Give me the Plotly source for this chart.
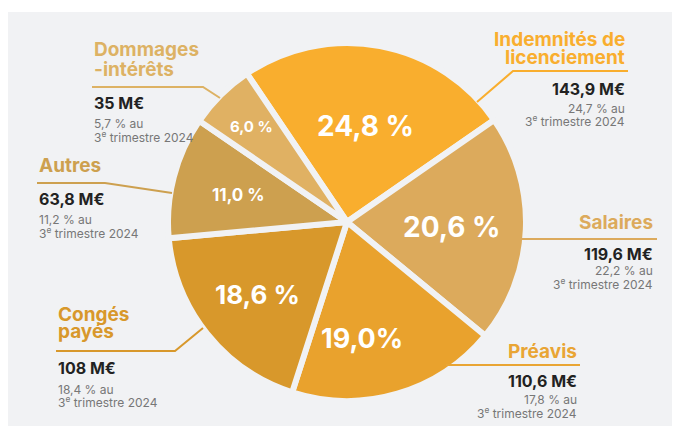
import math
import plotly.graph_objects as go

# ---- data ----
categories = ["Indemnités de licenciement", "Salaires", "Préavis", "Congés payés", "Autres", "Dommages-intérêts"]
shares_pct = [24.8, 20.6, 19.0, 18.6, 11.0, 6.0]
share_labels = ["24,8 %", "20,6 %", "19,0%", "18,6 %", "11,0 %", "6,0 %"]
amounts = ["143,9 M€", "119,6 M€", "110,6 M€", "108 M€", "63,8 M€", "35 M€"]
prev_share = ["24,7 % au", "22,2 % au", "17,8 % au", "18,4 % au", "11,2 % au", "5,7 % au"]
prev_period = "3<sup>e</sup> trimestre 2024"

colors = ["#F9AE2E", "#DCAA5C", "#E9A22D", "#D8982B", "#CDA04F", "#E0B163"]
label_colors = ["#F9AE2E", "#DCAA5C", "#E9A534", "#D8982B", "#CDA04F", "#DDB264"]
BG = "#F1F2F4"
W, H = 680, 432
FONT = "Inter"
OFF = 8  # page body margin offset

def px(x):
    return (x - OFF) / W

def py(y):
    return 1 - (y - OFF) / H

# pie geometry (center 347,222 ; radius ~179)
cx, cy, r = 347, 222, 179
ROTATION = -34

fig = go.Figure()
fig.add_trace(go.Pie(
    labels=categories,
    values=shares_pct,
    textinfo="none",
    sort=False,
    direction="clockwise",
    rotation=ROTATION,
    marker=dict(colors=colors, line=dict(color=BG, width=6)),
    hoverinfo="skip",
    showlegend=False,
    domain=dict(x=[px(cx - r), px(cx + r)], y=[py(cy + r), py(cy - r)]),
))

annotations = []

def ann(x, y, text, size, color, weight=400, anchor="left"):
    annotations.append(dict(
        x=px(x), y=py(y), xref="paper", yref="paper", text=text, showarrow=False,
        xanchor=anchor, yanchor="middle",
        font=dict(family=FONT, size=size, color=color, weight=weight),
    ))

# in-slice percentage labels, placed along each slice's mid-angle (computed from the data)
label_radius = [99, 105, 116, 115, 112, 136]
label_angle_shift = [0, 0, 9, 0, 0, 0]
label_sizes = [28, 28, 27, 26, 17, 15]
total = sum(shares_pct)
cum = 0.0
for i, v in enumerate(shares_pct):
    mid = ROTATION + (cum + v / 2) / total * 360 + label_angle_shift[i]
    cum += v
    t = math.radians(mid)
    lx = cx + label_radius[i] * math.sin(t)
    ly = cy - label_radius[i] * math.cos(t)
    annotations.append(dict(
        x=px(lx), y=py(ly + 1), xref="paper", yref="paper", text=share_labels[i], showarrow=False,
        xanchor="center", yanchor="middle",
        font=dict(family=FONT, size=label_sizes[i], color="white", weight=700),
    ))

shapes = [dict(type="rect", xref="paper", yref="paper", x0=px(8), x1=px(690), y0=py(426), y1=py(12),
               fillcolor=BG, line=dict(width=0), layer="below")]

def leader(points, color):
    path = "M " + " L ".join(f"{px(x)},{py(y)}" for x, y in points)
    shapes.append(dict(type="path", xref="paper", yref="paper", path=path,
                       line=dict(color=color, width=2)))

# label blocks: (index, title lines, anchor x, title ys, amount y, prev ys, anchor side, leader points)
blocks = [
    (0, ["Indemnités de", "licenciement"], 627, [39, 57], 89, [108, 121], "right",
     [(628, 71), (513, 71), (477, 102)]),
    (1, ["Salaires"], 655, [222], 254, [270, 284], "right",
     [(657, 239), (520, 239)]),
    (2, ["Préavis"], 579, [351], 381, [399, 413], "right",
     [(580, 365), (446, 365)]),
    (3, ["Congés", "payés"], 56, [314, 331], 368, [389, 402], "left",
     [(56, 351), (175, 351), (203, 328)]),
    (4, ["Autres"], 37, [165], 199, [219, 233], "left",
     [(37, 183), (105, 183), (172, 193)]),
    (5, ["Dommages", "-intérêts"], 92, [50, 69], 103, [123, 137], "left",
     [(92, 87), (203, 87), (220, 98)]),
]

for i, titles, x, tys, ay, pys, side, pts in blocks:
    for t, ty in zip(titles, tys):
        ann(x, ty, t, 19, label_colors[i], 700, side)
    ann(x, ay, amounts[i], 16, "#222222", 700, side)
    ann(x, pys[0], prev_share[i], 12, "#777777", 400, side)
    ann(x, pys[1], prev_period, 12, "#777777", 400, side)
    leader(pts, label_colors[i])

fig.update_layout(
    width=W, height=H,
    margin=dict(l=0, r=0, t=0, b=0),
    paper_bgcolor="white",
    plot_bgcolor="white",
    annotations=annotations,
    shapes=shapes,
)

fig.write_html("out.html")
